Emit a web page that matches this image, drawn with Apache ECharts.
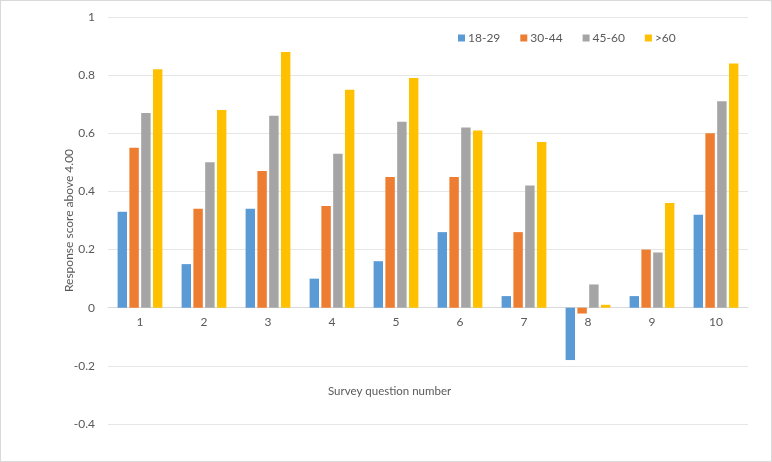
<!DOCTYPE html>
<html><head><meta charset="utf-8">
<script src="https://cdn.jsdelivr.net/npm/echarts@6/dist/echarts.min.js"></script>
<style>html,body{margin:0;padding:0;background:#fff}#c{width:772px;height:462px;box-sizing:border-box;border:1px solid #d9d9d9}</style>
</head><body><div id="c"></div>
<script>
const categories = ['1','2','3','4','5','6','7','8','9','10'];
const s18_29 = [0.33, 0.15, 0.34, 0.10, 0.16, 0.26, 0.04, -0.18, 0.04, 0.32];
const s30_44 = [0.55, 0.34, 0.47, 0.35, 0.45, 0.45, 0.26, -0.02, 0.20, 0.60];
const s45_60 = [0.67, 0.50, 0.66, 0.53, 0.64, 0.62, 0.42, 0.08, 0.19, 0.71];
const s60p   = [0.82, 0.68, 0.88, 0.75, 0.79, 0.61, 0.57, 0.01, 0.36, 0.84];
const seriesNames = ['18-29','30-44','45-60','>60'];
const yMin = -0.4, yMax = 1;
const colors = ['#5B9BD5','#ED7D31','#A5A5A5','#FFC000'];
const font = 'Lato, "Open Sans", sans-serif';
const gridTop = 16, gridBottom = 37, H = 462;
const plotH = H - gridTop - gridBottom;
const zeroFromBottom = plotH * (0 - yMin) / (yMax - yMin);
const chart = echarts.init(document.getElementById('c'));
const data = [s18_29, s30_44, s45_60, s60p];
chart.setOption({
  animation: false,
  color: colors,
  textStyle: {fontFamily: font},
  grid: {left: 107, right: 23, top: gridTop, bottom: gridBottom, containLabel: false},
  legend: {
    top: 26, left: 452, itemWidth: 7, itemHeight: 7, itemGap: 20,
    icon: 'rect',
    textStyle: {color: '#595959', fontSize: 12, fontFamily: font, padding: [0,0,0,-2]},
    data: seriesNames
  },
  title: {
    text: 'Survey question number', left: 322, top: 379,
    textStyle: {color: '#595959', fontSize: 11.5, fontWeight: 'normal', fontFamily: font}
  },
  xAxis: {
    type: 'category', data: categories, position: 'bottom',
    offset: -zeroFromBottom,
    axisLine: {show: true, onZero: false, lineStyle: {color: '#d9d9d9'}},
    axisTick: {show: false},
    axisLabel: {color: '#595959', fontSize: 12, margin: 9, fontFamily: font},
    splitLine: {show: false}
  },
  yAxis: {
    type: 'value', min: yMin, max: yMax, interval: 0.2,
    name: 'Response score above 4.00', nameLocation: 'middle', nameGap: 33,
    nameMoveOverlap: false,
    nameTextStyle: {color: '#595959', fontSize: 12, fontFamily: font},
    axisLine: {show: false}, axisTick: {show: false},
    axisLabel: {color: '#595959', fontSize: 12, margin: 13, fontFamily: font,
      formatter: v => String(Math.round(v*10)/10)},
    splitLine: {lineStyle: {color: '#e6e6e6'}}
  },
  series: seriesNames.map((n, i) => ({
    name: n, type: 'bar', data: data[i],
    barGap: '25%', barCategoryGap: '30%'
  }))
});
</script></body></html>
